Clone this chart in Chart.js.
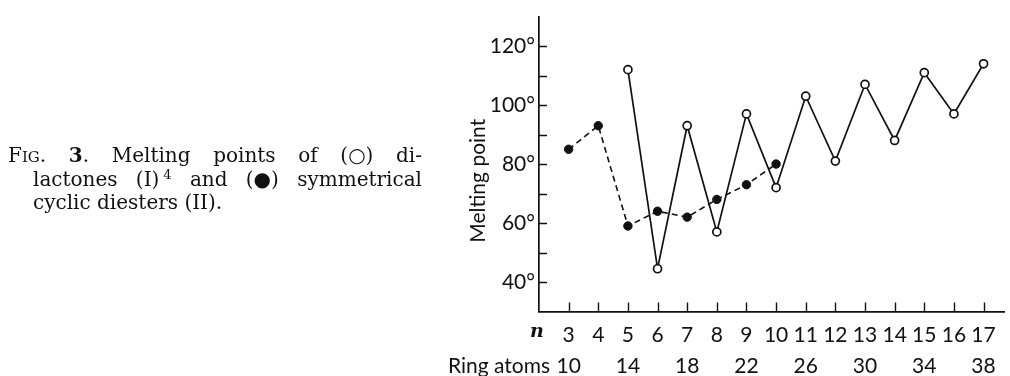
<!DOCTYPE html>
<html>
<head>
<meta charset="utf-8">
<script src="https://cdn.jsdelivr.net/npm/chart.js@4.4.1/dist/chart.umd.min.js"></script>
<style>
  html, body { margin: 0; padding: 0; background: #fff; }
  #wrap { position: relative; width: 1010px; height: 376px; }
  #chart { position: absolute; left: 0; top: 0; }
  .cap {
    position: absolute; left: 8px; width: 414px;
    font-family: "DejaVu Serif", "Liberation Serif", serif;
    font-size: 20px; line-height: 23.5px; color: #111;
    text-align: justify; text-align-last: justify; white-space: nowrap;
  }
  .cap.in { left: 33px; width: 389px; }
  .cap.last { text-align-last: left; }
  .sc { font-size: 15px; }
  .sym { display: inline-block; }
  sup { font-size: 13px; vertical-align: 7px; line-height: 0; }
</style>
</head>
<body>
<div id="wrap">
  <canvas id="chart" width="1010" height="376"></canvas>
  <div class="cap" style="top:144px;">F<span class="sc">IG</span>. <b>3</b>. Melting points of <span class="sym">(○)</span> di-</div>
  <div class="cap in" style="top:167.5px;">lactones <span class="sym">(I)&thinsp;<sup>4</sup></span> and <span class="sym">(●)</span> symmetrical</div>
  <div class="cap in last" style="top:191px;">cyclic diesters (II).</div>
</div>
<script>
// ===== 数据 =====
var nValues = [3, 4, 5, 6, 7, 8, 9, 10, 11, 12, 13, 14, 15, 16, 17];
var ringN = [3, 5, 7, 9, 11, 13, 15, 17];
var ringAtoms = [10, 14, 18, 22, 26, 30, 34, 38];
var yLabelValues = [40, 60, 80, 100, 120];
var yTickValues = [40, 50, 60, 70, 80, 90, 100, 110, 120];

// (○) dilactones (I)
var dilactoneN = [5, 6, 7, 8, 9, 10, 11, 12, 13, 14, 15, 16, 17];
var dilactoneMp = [112, 44.5, 93, 57, 97, 72, 103, 81, 107, 88, 111, 97, 114];

// (●) symmetrical cyclic diesters (II)
var diesterN = [3, 4, 5, 6, 7, 8, 9, 10];
var diesterMp = [85, 93, 59, 64, 62, 68, 73, 80];

var INK = '#111';
var AXIS_FONT = 'Lato, "DejaVu Sans", sans-serif';

function toPoints(xs, ys) {
  return xs.map(function(x, i) { return { x: x, y: ys[i] }; });
}

// 向内的刻度线 + 额外文字
var extrasPlugin = {
  id: 'extras',
  afterDraw: function(chart) {
    var ctx = chart.ctx;
    var xs = chart.scales.x;
    var ys = chart.scales.y;
    var area = chart.chartArea;
    ctx.save();
    ctx.strokeStyle = INK;
    ctx.lineWidth = 1.4;
    ctx.beginPath();
    yTickValues.forEach(function(v) {
      var py = Math.round(ys.getPixelForValue(v)) + 0.5;
      ctx.moveTo(area.left, py);
      ctx.lineTo(area.left + 8, py);
    });
    nValues.forEach(function(v) {
      var px = Math.round(xs.getPixelForValue(v)) + 0.5;
      ctx.moveTo(px, area.bottom);
      ctx.lineTo(px, area.bottom - 9);
    });
    ctx.stroke();

    ctx.fillStyle = INK;
    // y axis title
    ctx.save();
    ctx.translate(area.left - 61, (ys.getPixelForValue(80) + ys.getPixelForValue(70)) / 2 + 2);
    ctx.rotate(-Math.PI / 2);
    ctx.font = '21px ' + AXIS_FONT;
    ctx.textAlign = 'center';
    ctx.textBaseline = 'middle';
    ctx.fillText('Melting point', 0, 0);
    ctx.restore();

    // n label
    ctx.font = 'italic bold 19px "DejaVu Serif", serif';
    ctx.textAlign = 'center';
    ctx.textBaseline = 'middle';
    ctx.fillText('n', area.left - 2, area.bottom + 21);

    // Ring atoms label
    ctx.font = '21px ' + AXIS_FONT;
    ctx.textAlign = 'right';
    ctx.fillText('Ring atoms', area.left + 11, area.bottom + 55);
    ctx.restore();
  }
};

var chart = new Chart(document.getElementById('chart'), {
  type: 'line',
  data: {
    datasets: [
      {
        label: 'dilactones (I)',
        data: toPoints(dilactoneN, dilactoneMp),
        borderColor: INK,
        borderWidth: 1.7,
        pointRadius: 4,
        pointBorderWidth: 1.7,
        pointBackgroundColor: '#fff',
        pointBorderColor: INK,
        tension: 0
      },
      {
        label: 'symmetrical cyclic diesters (II)',
        data: toPoints(diesterN, diesterMp),
        borderColor: INK,
        borderWidth: 1.6,
        borderDash: [6, 4],
        pointRadius: 4.2,
        pointBorderWidth: 1,
        pointBackgroundColor: INK,
        pointBorderColor: INK,
        tension: 0
      }
    ]
  },
  options: {
    responsive: false,
    animation: false,
    layout: { padding: { left: 0, right: 0, top: 10, bottom: 0 } },
    plugins: {
      legend: { display: false },
      tooltip: { enabled: false }
    },
    scales: {
      x: {
        type: 'linear',
        position: 'bottom',
        min: 2,
        max: 17.7,
        afterFit: function(s) { s.height = 32; },
        afterBuildTicks: function(s) {
          s.ticks = nValues.map(function(v) { return { value: v }; });
        },
        grid: { display: false, drawTicks: false },
        border: { display: true, color: INK, width: 1.7 },
        ticks: {
          autoSkip: false,
          maxRotation: 0,
          padding: 11,
          color: INK,
          font: { family: AXIS_FONT, size: 21 },
          callback: function(v) { return String(v); }
        }
      },
      x2: {
        type: 'linear',
        position: 'bottom',
        min: 2,
        max: 17.7,
        afterFit: function(s) { s.height = 32.5; },
        afterBuildTicks: function(s) {
          s.ticks = ringN.map(function(v) { return { value: v }; });
        },
        grid: { display: false, drawTicks: false },
        border: { display: false },
        ticks: {
          autoSkip: false,
          maxRotation: 0,
          padding: 10,
          color: INK,
          font: { family: AXIS_FONT, size: 21 },
          callback: function(v) {
            var i = ringN.indexOf(v);
            return i >= 0 ? String(ringAtoms[i]) : '';
          }
        }
      },
      y: {
        type: 'linear',
        min: 30,
        max: 130,
        afterFit: function(s) { s.width = 539; },
        afterBuildTicks: function(s) {
          s.ticks = yLabelValues.map(function(v) { return { value: v }; });
        },
        grid: { display: false, drawTicks: false },
        border: { display: true, color: INK, width: 1.7 },
        ticks: {
          padding: 4,
          color: INK,
          font: { family: AXIS_FONT, size: 21 },
          callback: function(v) { return v + '°'; }
        }
      }
    }
  },
  plugins: [extrasPlugin]
});
</script>
</body>
</html>
